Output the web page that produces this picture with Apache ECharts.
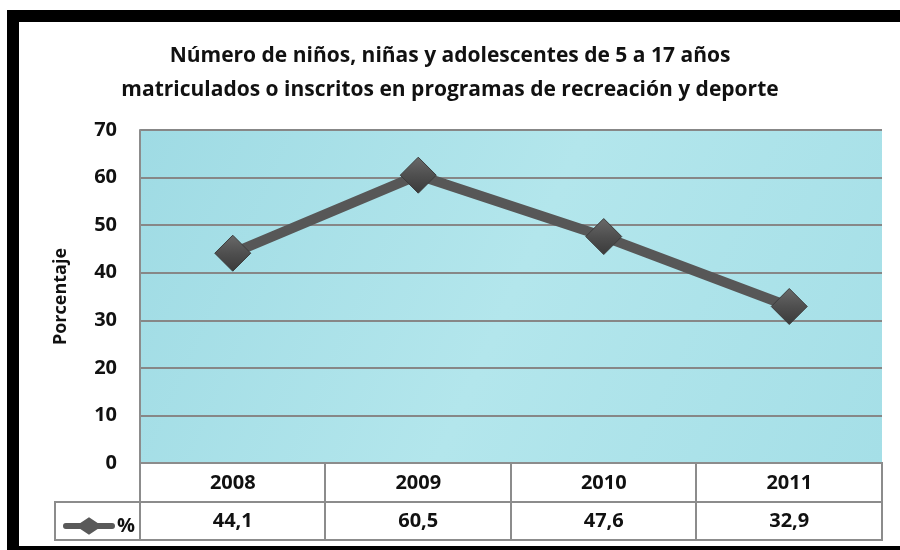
<!DOCTYPE html>
<html>
<head>
<meta charset="utf-8">
<script src="https://cdn.jsdelivr.net/npm/echarts@6/dist/echarts.min.js"></script>
<style>
  html, body { margin: 0; padding: 0; background: #fff; overflow: hidden; }
  #chart { width: 900px; height: 550px; }
</style>
</head>
<body>
<div id="chart"></div>
<script>
// data
const years = ['2008', '2009', '2010', '2011']
const porcentaje = [44.1, 60.5, 47.6, 32.9]
const yTicks = { min: 0, max: 70, interval: 10 }

const FONT = '"Open Sans", sans-serif'
const chart = echarts.init(document.getElementById('chart'))

const fmt = v => v.toFixed(1).replace('.', ',')
const markerColor = new echarts.graphic.LinearGradient(0, 0, 0, 1, [
  { offset: 0, color: '#6a6a6a' },
  { offset: 0.5, color: '#4f4f4f' },
  { offset: 1, color: '#3a3a3a' }
])
const labelStyle = {
  fontFamily: FONT,
  fontSize: 20,
  fontWeight: 'bold',
  color: '#111'
}
const gridLine = { stroke: '#8c8c8c', lineWidth: 2 }
const frame = { stroke: '#000', lineWidth: 12 }

chart.setOption({
  backgroundColor: '#fff',
  title: {
    text: 'Número de niños, niñas y adolescentes de 5 a 17 años\nmatriculados o inscritos en programas de recreación y deporte',
    left: 'center',
    top: 34,
    textStyle: {
      fontFamily: FONT,
      fontSize: 21,
      fontWeight: 'bold',
      color: '#111',
      lineHeight: 34
    }
  },
  legend: {
    left: 58,
    top: 511,
    itemWidth: 52,
    itemHeight: 18,
    itemGap: 3,
    icon: 'path://M3,6 L18,6 L27,0 L36,6 L51,6 A3,3 0 0 1 51,12 L36,12 L27,18 L18,12 L3,12 A3,3 0 0 1 3,6 Z',
    itemStyle: { color: '#595959', borderWidth: 0 },
    textStyle: Object.assign({ padding: [0, 0, 0, -3] }, labelStyle),
    data: [{ name: '%' }]
  },
  grid: {
    left: 140,
    right: 18,
    top: 130,
    bottom: 87,
    show: true,
    borderWidth: 0,
    backgroundColor: new echarts.graphic.LinearGradient(0, 0, 1, 1, [
      { offset: 0, color: '#9fdbe4' },
      { offset: 0.5, color: '#b3e6ec' },
      { offset: 1, color: '#a5dfe7' }
    ])
  },
  xAxis: [
    {
      type: 'category',
      data: years,
      position: 'bottom',
      axisLine: { show: false },
      axisTick: { show: false },
      axisLabel: Object.assign({ margin: 10 }, labelStyle)
    },
    {
      type: 'category',
      data: porcentaje.map(fmt),
      position: 'bottom',
      offset: 39,
      axisLine: { show: false },
      axisTick: { show: false },
      axisLabel: Object.assign({ margin: 9 }, labelStyle)
    }
  ],
  yAxis: {
    type: 'value',
    min: yTicks.min,
    max: yTicks.max,
    interval: yTicks.interval,
    name: 'Porcentaje',
    nameLocation: 'middle',
    nameGap: 70,
    nameTextStyle: { fontFamily: FONT, fontSize: 18, fontWeight: 'bold', color: '#111' },
    axisLine: { show: true, lineStyle: { color: '#8c8c8c', width: 2 } },
    axisTick: { show: false },
    axisLabel: Object.assign({ margin: 23 }, labelStyle),
    splitLine: { lineStyle: { color: '#878787', width: 2 } }
  },
  series: [
    {
      name: '%',
      type: 'line',
      data: porcentaje,
      symbol: 'diamond',
      symbolSize: 36,
      lineStyle: { color: '#575757', width: 10 },
      itemStyle: { color: markerColor, borderColor: '#3c3c3c', borderWidth: 1 },
      z: 3
    }
  ],
  graphic: [
    // frame: top, left and bottom edges only
    { type: 'line', shape: { x1: 7, y1: 16, x2: 900, y2: 16 }, style: frame, z: 100 },
    { type: 'line', shape: { x1: 13, y1: 10, x2: 13, y2: 550 }, style: frame, z: 100 },
    { type: 'line', shape: { x1: 7, y1: 552, x2: 900, y2: 552 }, style: frame, z: 100 },
    // data table lines
    { type: 'polyline', shape: { points: [[140, 463], [882, 463], [882, 540], [55, 540], [55, 502], [882, 502]] }, style: Object.assign({ fill: 'none' }, gridLine), z: 50 },
    { type: 'line', shape: { x1: 140, y1: 463, x2: 140, y2: 540 }, style: gridLine, z: 50 },
    { type: 'line', shape: { x1: 325, y1: 463, x2: 325, y2: 540 }, style: gridLine, z: 50 },
    { type: 'line', shape: { x1: 511, y1: 463, x2: 511, y2: 540 }, style: gridLine, z: 50 },
    { type: 'line', shape: { x1: 696, y1: 463, x2: 696, y2: 540 }, style: gridLine, z: 50 }
  ]
})
</script>
</body>
</html>
